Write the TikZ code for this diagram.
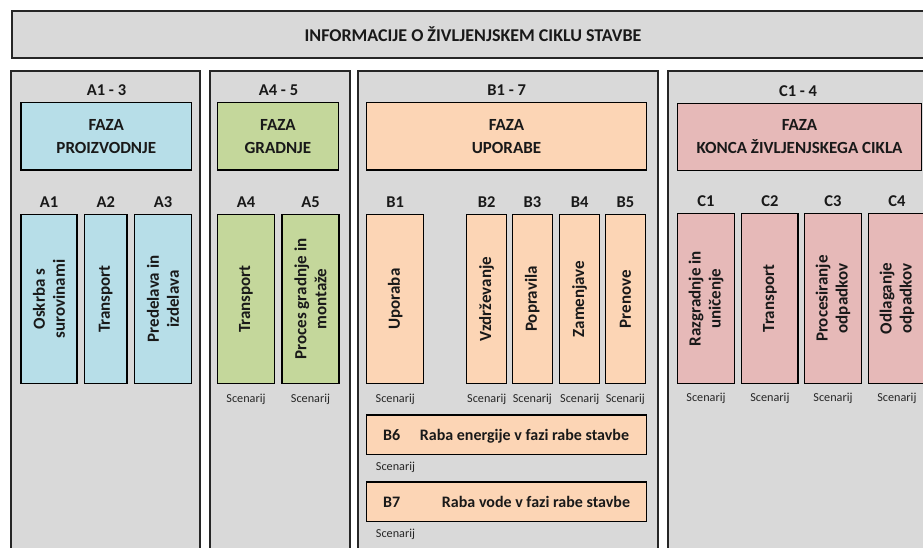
\documentclass[tikz,border=0pt]{standalone}
\usepackage{fontspec}
\setmainfont{Carlito}
\definecolor{secgray}{HTML}{D9D9D9}
\definecolor{fblue}{HTML}{B7DEE8}
\definecolor{fgreen}{HTML}{C4D79B}
\definecolor{fpeach}{HTML}{FCD5B5}
\definecolor{fpink}{HTML}{E6B9B8}
\tikzset{
  sect/.style={draw=black!85, line width=1.8pt, fill=secgray},
  box/.style={draw=black, line width=1.3pt, inner sep=0pt},
  hdr/.style={font=\bfseries\fontsize{17}{22.7}\selectfont, align=center, text=black!90},
  lab/.style={font=\bfseries\fontsize{16.5}{18}\selectfont, text=black!90},
  ttl/.style={font=\bfseries\fontsize{18}{20}\selectfont, text=black!90},
  bt/.style={font=\bfseries\fontsize{16}{18}\selectfont, text=black!90},
  sub/.style={box, rotate=90, minimum width=169.5pt, align=center,
    font=\bfseries\fontsize{17}{20}\selectfont, text=black!90},
  scen/.style={font=\fontsize{12.2}{14}\selectfont, text=black!85, anchor=base},
}
\begin{document}
\begin{tikzpicture}[x=1pt,y=-1pt]
\path[use as bounding box] (0,0) rectangle (923,547);
\clip (0,0) rectangle (923,547);
% title
\node[sect, anchor=north west, minimum width=924pt, minimum height=47pt, inner sep=0pt] (title) at (11,10) {};
\node[ttl] (ttext) at (473,34) {INFORMACIJE O ŽIVLJENJSKEM CIKLU STAVBE};
% sections
\node[sect, anchor=north west, minimum width=189.3pt, minimum height=500pt, inner sep=0pt] (sA) at (10,70) {};
\node[sect, anchor=north west, minimum width=140pt, minimum height=500pt, inner sep=0pt] (sA45) at (208.7,70) {};
\node[sect, anchor=north west, minimum width=300pt, minimum height=500pt, inner sep=0pt] (sB) at (356.7,70) {};
\node[sect, anchor=north west, minimum width=280pt, minimum height=500pt, inner sep=0pt] (sC) at (667.3,70) {};
% section labels
\node[lab, anchor=base] (lA) at (106.5,95) {A1 - 3};
\node[lab, anchor=base] (lA45) at (278.5,95) {A4 - 5};
\node[lab, anchor=base] (lB) at (506.7,95) {B1 - 7};
\node[lab, anchor=base] (lC) at (798,96) {C1 - 4};
% phase boxes
\node[box, hdr, fill=fblue, minimum width=170.7pt, minimum height=67.3pt] (fA) at (106.3,136.3) {FAZA\\PROIZVODNJE};
\node[box, hdr, fill=fgreen, minimum width=121pt, minimum height=67.3pt] (fA45) at (277.9,136.3) {FAZA\\GRADNJE};
\node[box, hdr, fill=fpeach, minimum width=279.6pt, minimum height=67.3pt] (fB) at (506.5,136.3) {FAZA\\UPORABE};
\node[box, hdr, fill=fpink, minimum width=244.4pt, minimum height=67.3pt] (fC) at (799.5,136.8) {FAZA\\KONCA ŽIVLJENJSKEGA CIKLA};
% module boxes
\node[sub, fill=fblue, minimum height=56pt] (a1) at (49,299) {Oskrba s\\surovinami};
\node[sub, fill=fblue, minimum height=42.7pt] (a2) at (105.7,299) {Transport};
\node[sub, fill=fblue, minimum height=57.4pt] (a3) at (163,299) {Predelava in\\izdelava};
\node[sub, fill=fgreen, minimum height=57.4pt] (a4) at (246,299) {Transport};
\node[sub, fill=fgreen, minimum height=57pt] (a5) at (310.5,299) {Proces gradnje in\\montaže};
\node[sub, fill=fpeach, minimum height=57pt] (b1) at (395.2,299) {Uporaba};
\node[sub, fill=fpeach, minimum height=40pt] (b2) at (486.7,299) {Vzdrževanje};
\node[sub, fill=fpeach, minimum height=40pt] (b3) at (532.3,299) {Popravila};
\node[sub, fill=fpeach, minimum height=40pt] (b4) at (579.7,299) {Zamenjave};
\node[sub, fill=fpeach, minimum height=40pt] (b5) at (625.3,299) {Prenove};
\node[sub, fill=fpink, minimum height=57.4pt] (c1) at (706,298.5) {Razgradnje in\\uničenje};
\node[sub, fill=fpink, minimum height=56.3pt] (c2) at (769.9,298.5) {Transport};
\node[sub, fill=fpink, minimum height=56.8pt] (c3) at (833,298.5) {Procesiranje\\odpadkov};
\node[sub, fill=fpink, minimum height=57.2pt] (c4) at (896.9,298.5) {Odlaganje\\odpadkov};
% module labels
\foreach \n/\t in {a1/A1,a2/A2,a3/A3,a4/A4,a5/A5,b1/B1,b2/B2,b3/B3,b4/B4,b5/B5,c1/C1,c2/C2,c3/C3,c4/C4}
  \node[lab, anchor=base] (l\n) at ([yshift=6.5pt]\n.east) {\t};
% scenarij labels
\foreach \n in {a4,a5,b1,b2,b3,b4,b5,c1,c2,c3,c4}
  \node[scen] (s\n) at ([yshift=-18pt]\n.west) {Scenarij};
% B6 / B7
\node[box, fill=fpeach, minimum width=279.6pt, minimum height=39.7pt] (b6) at (506.5,434.8) {};
\node[bt, anchor=base] (lb6) at (391.7,440) {B6};
\node[bt, anchor=base] (tb6) at (524.5,440) {Raba energije v fazi rabe stavbe};
\node[scen] (sb6) at (395.5,470) {Scenarij};
\node[box, fill=fpeach, minimum width=279.6pt, minimum height=39.7pt] (b7) at (506.5,501.8) {};
\node[bt, anchor=base] (lb7) at (391.7,507) {B7};
\node[bt, anchor=base] (tb7) at (536,507) {Raba vode v fazi rabe stavbe};
\node[scen] (sb7) at (395.5,537.3) {Scenarij};
\end{tikzpicture}
\end{document}
